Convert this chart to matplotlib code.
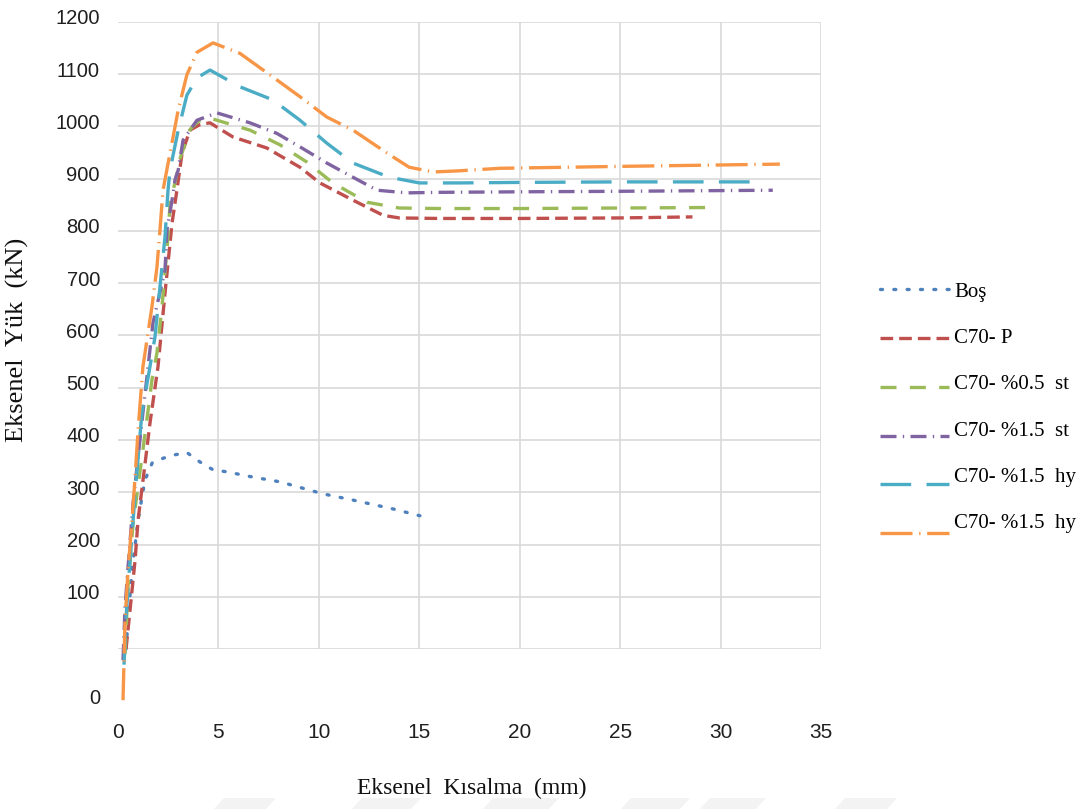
import matplotlib
matplotlib.use("Agg")
import matplotlib.pyplot as plt
from matplotlib import font_manager
from matplotlib.patches import Polygon
from matplotlib.transforms import ScaledTranslation

# eksenel kisalma (mm) / eksenel yuk (kN) okumalari
bos_x = [0.4, 0.5, 0.7, 1.0, 1.34, 1.7, 2.24, 2.74, 3.43, 4.08, 4.73, 5.43, 6.72, 8.06, 10.2, 11.7, 13.7, 15.03]
bos_y = [0, 55, 151, 247, 323, 356, 365, 371, 376, 358, 343, 339, 329, 320, 297, 285, 268, 255]

p_x = [0.4, 0.6, 0.85, 1.0, 1.3, 1.59, 1.99, 2.34, 2.69, 2.94, 3.19, 3.58, 4.1, 4.58, 5.72, 7.4, 9.06,
       10.05, 11.7, 13.2, 14.0, 16.0, 20.0, 25.0, 28.6]
p_y = [0, 75, 170, 247, 340, 432, 540, 681, 815, 880, 949, 993, 1004, 1007, 980, 959, 922,
       892, 859, 830, 825, 824, 824, 825, 827]

st05_x = [0.35, 0.5, 0.75, 1.24, 1.5, 1.69, 1.94, 2.19, 2.44, 2.59, 3.1, 3.6, 4.0, 4.58, 6.57, 8.06,
          9.4, 10.7, 12.4, 14.0, 16.0, 20.0, 25.0, 29.7]
st05_y = [-10, 120, 240, 381, 457, 515, 567, 655, 764, 850, 940, 995, 1010, 1016, 993, 965,
          932, 892, 855, 844, 843, 843, 844, 845]

st15_x = [0.25, 0.35, 0.5, 0.75, 1.24, 1.74, 2.34, 2.44, 2.69, 2.84, 3.0, 3.24, 3.93, 4.93, 6.57, 7.9,
          9.06, 10.4, 11.5, 12.9, 14.4, 16.0, 20.0, 25.0, 32.6]
st15_y = [-21, 80, 157, 279, 452, 624, 725, 802, 859, 898, 917, 974, 1012, 1026, 1007, 987,
          961, 930, 907, 878, 873, 874, 875, 876, 878]

hy_x = [0.3, 0.4, 0.6, 0.9, 1.19, 1.59, 1.84, 2.09, 2.34, 2.49, 2.59, 3.0, 3.43, 3.93, 4.58, 6.07, 7.7,
        9.06, 10.4, 11.7, 13.5, 15.0, 17.0, 20.0, 25.0, 32.2]
hy_y = [-30, 60, 170, 320, 452, 540, 597, 693, 789, 878, 917, 993, 1060, 1093, 1108, 1076, 1051,
        1012, 968, 930, 903, 892, 892, 893, 894, 894]

hy2_x = [0.25, 0.35, 0.5, 0.7, 0.85, 1.0, 1.24, 1.44, 1.69, 1.94, 2.09, 2.24, 2.59, 3.0, 3.43, 3.93,
         4.73, 6.07, 7.7, 9.06, 10.4, 11.7, 13.4, 14.5, 15.7, 16.9, 19.0, 25.6, 32.95]
hy2_y = [-98, 55, 151, 247, 329, 419, 540, 591, 655, 731, 802, 878, 949, 1032, 1099, 1142,
         1160, 1140, 1095, 1057, 1018, 993, 949, 922, 913, 915, 920, 924, 928]

names = ["Boş", "C70- P", "C70- %0.5  st", "C70- %1.5  st", "C70- %1.5  hy", "C70- %1.5  hy"]
colors = ["#4f81bd", "#c0504d", "#9bbb59", "#8064a2", "#4bacc6", "#f79646"]
dashes = [(0.6, 3.4), (3.8, 1.8), (4.8, 4.0), (4.8, 1.9, 0.4, 1.9), (9.2, 4.6), (9.6, 2.0, 0.4, 2.0)]
series = [(bos_x, bos_y), (p_x, p_y), (st05_x, st05_y), (st15_x, st15_y), (hy_x, hy_y), (hy2_x, hy2_y)]

installed = {f.name for f in font_manager.fontManager.ttflist}
tick_font = "Liberation Sans Narrow" if "Liberation Sans Narrow" in installed else "Liberation Sans"
serif = "Liberation Serif"

fig = plt.figure(figsize=(10.82, 8.09), dpi=100)
ax = fig.add_axes([118 / 1082, 1 - 649 / 809, 703 / 1082, 627 / 809])

for (xs, ys), name, c, d in zip(series, names, colors, dashes):
    ax.plot(xs, ys, color=c, lw=2.4, dashes=d, label=name, clip_on=False,
            dash_capstyle="round" if name == "Boş" else "butt")

ax.set_xlim(0, 35)
ax.set_ylim(0, 1200)
ax.set_xticks(range(0, 36, 5))
ax.set_yticks(range(0, 1201, 100))
ax.set_yticklabels([""] + [str(v) for v in range(100, 1201, 100)])
ax.grid(color="#d9d9d9", lw=1.2)
ax.get_xgridlines()[0].set_visible(False)
ax.set_axisbelow(True)
for s in ax.spines.values():
    s.set_visible(False)
ax.tick_params(length=0, labelcolor="#1f1f1f")
ax.tick_params(axis="y", pad=13, labelsize=14.5)
ax.tick_params(axis="x", pad=53, labelsize=15)
for lab in ax.get_xticklabels() + ax.get_yticklabels():
    lab.set_fontfamily(tick_font)
for lab in ax.get_yticklabels():
    lab.set_transform(lab.get_transform() + ScaledTranslation(0, 5 / 100, fig.dpi_scale_trans))

# sifir etiketi egrilerin basladigi yerde
ax.text(-18 / 703, -94, "0", transform=ax.get_yaxis_transform(), ha="right", va="center",
        fontsize=14.5, color="#1f1f1f", family=tick_font, clip_on=False)

fig.text(472 / 1082, 1 - 788 / 809, "Eksenel  Kısalma  (mm)", ha="center", va="center",
         fontsize=17, family=serif, color="#111111")
fig.text(17 / 1082, 1 - 340 / 809, "Eksenel  Yük  (kN)", ha="center", va="center",
         rotation=90, fontsize=19, family=serif, color="#111111")

leg = ax.legend(loc="upper left", bbox_to_anchor=(880 / 1082, 1 - 282 / 809),
                bbox_transform=fig.transFigure, frameon=False, borderpad=0, borderaxespad=0,
                prop={"family": serif, "size": 15}, handlelength=3.3, handletextpad=0.25,
                labelspacing=1.4)
# yazilar cizgilerin biraz ustunde duruyor
for i, t in enumerate(leg.get_texts()):
    lift = min(2.4 * i, 12) / 100
    t.set_transform(t.get_transform() + ScaledTranslation(0, lift, fig.dpi_scale_trans))

# alt kenardaki soluk filigran parcalari
for x0, x1 in [(214, 276), (352, 421), (483, 559), (621, 690), (700, 766), (835, 897)]:
    pts = [(x0 / 1082, 0), ((x1 - 10) / 1082, 0), (x1 / 1082, 11 / 809), ((x0 + 10) / 1082, 11 / 809)]
    fig.patches.append(Polygon(pts, closed=True, transform=fig.transFigure,
                               facecolor="#f3f3f3", edgecolor="none", zorder=0))

fig.savefig("out.png", dpi=100, facecolor="white")
